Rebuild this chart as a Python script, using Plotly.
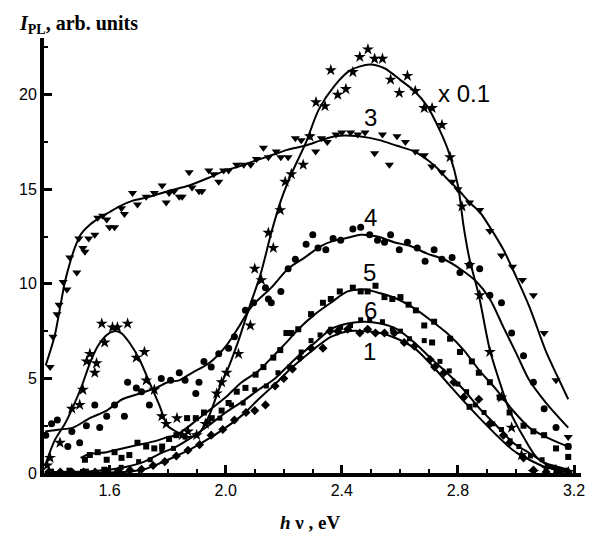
import plotly.graph_objects as go

# ---------------- fitted curves (line knots) ----------------
c2_line_x = [1.378,1.41,1.446,1.474,1.504,1.532,1.559,1.59,1.615,1.64,1.668,1.703,1.737,1.771,1.80,1.84,1.874,1.908,1.942,1.976,2.01,2.044,2.08,2.12,2.157,2.19,2.226,2.277,2.32,2.376,2.43,2.496,2.547,2.60,2.65,2.694,2.738,2.77,2.80,2.82,2.84,2.872,2.91,2.944,2.978,3.026,3.07,3.128,3.18]
c2_line_y = [0.4,1.7,2.6,3.5,4.6,5.8,6.7,7.3,7.5,7.4,6.9,6.0,4.8,3.6,2.5,2.1,1.9,2.1,3.0,4.4,5.6,7.0,8.7,10.5,12.7,14.4,15.8,17.5,19.2,20.5,21.3,21.6,21.4,20.8,20.2,19.4,18.1,16.9,15.2,13.0,11.3,9.4,6.5,4.8,3.3,1.9,0.85,0.26,0.05]

c3_line_x = [1.38,1.41,1.43,1.446,1.465,1.48,1.50,1.53,1.566,1.60,1.634,1.68,1.737,1.80,1.874,1.94,2.0,2.044,2.10,2.157,2.215,2.273,2.33,2.376,2.41,2.46,2.53,2.59,2.65,2.70,2.73,2.76,2.80,2.84,2.875,2.91,2.957,3.0,3.046,3.104,3.14,3.18]
c3_line_y = [5.7,7.2,8.8,10.1,11.2,11.9,12.6,13.1,13.5,13.8,14.1,14.4,14.6,14.9,15.2,15.6,16.0,16.2,16.5,16.8,17.1,17.3,17.6,17.8,17.85,17.8,17.6,17.3,17.0,16.5,16.1,15.6,15.0,14.3,13.8,13.0,11.8,10.4,8.8,6.4,5.2,3.9]

c4_line_x = [1.378,1.43,1.474,1.532,1.59,1.644,1.703,1.76,1.80,1.84,1.884,1.942,2.0,2.044,2.089,2.157,2.215,2.273,2.328,2.376,2.41,2.465,2.523,2.58,2.636,2.694,2.752,2.807,2.865,2.91,2.957,3.002,3.046,3.104,3.18]
c4_line_y = [2.2,2.3,2.4,2.9,3.3,3.9,4.2,4.5,4.8,4.9,5.3,5.8,6.7,7.7,8.8,9.8,10.8,11.4,12.0,12.3,12.4,12.6,12.5,12.2,12.0,11.6,11.3,10.8,10.1,9.2,7.7,6.3,4.9,3.7,2.4]

c5_line_x = [1.50,1.532,1.59,1.644,1.703,1.76,1.80,1.829,1.884,1.942,2.0,2.055,2.113,2.171,2.215,2.25,2.308,2.362,2.42,2.479,2.533,2.591,2.65,2.704,2.762,2.82,2.875,2.933,2.99,3.046,3.104,3.163,3.18]
c5_line_y = [0.8,1.0,1.1,1.3,1.5,1.7,1.9,2.0,2.6,3.3,4.0,4.8,5.4,6.3,7.0,7.6,8.4,9.0,9.6,9.7,9.5,9.2,8.7,8.1,7.4,6.5,5.4,4.4,3.3,2.4,1.9,1.5,1.4]

c6_line_x = [1.38,1.55,1.65,1.72,1.77,1.83,1.884,1.94,2.0,2.06,2.113,2.17,2.23,2.308,2.362,2.42,2.479,2.533,2.591,2.65,2.704,2.762,2.82,2.875,2.933,2.99,3.046,3.104,3.163]
c6_line_y = [0.05,0.1,0.3,0.6,1.0,1.4,1.9,2.5,3.2,3.8,4.4,5.0,5.9,6.9,7.6,7.9,8.0,7.9,7.6,6.9,6.1,5.3,4.4,3.4,2.5,1.6,1.05,0.5,0.25]

c1_line_x = [1.38,1.55,1.65,1.72,1.771,1.83,1.884,1.94,2.0,2.06,2.113,2.17,2.23,2.308,2.362,2.42,2.479,2.533,2.591,2.65,2.704,2.762,2.82,2.875,2.933,2.99,3.046,3.104,3.163]
c1_line_y = [0.02,0.03,0.05,0.2,0.5,0.9,1.3,1.8,2.4,3.1,3.9,4.7,5.6,6.6,7.2,7.5,7.5,7.4,7.1,6.6,5.8,4.8,3.8,2.9,2.0,1.2,0.7,0.3,0.15]

# ---------------- measured points ----------------
c2_pts_x = [1.385,1.395,1.429,1.47,1.497,1.508,1.521,1.532,1.549,1.555,1.573,1.583,1.61,1.627,1.662,1.692,1.72,1.726,1.754,1.78,1.795,1.832,1.85,1.87,1.90,1.93,1.969,1.986,2.003,2.044,2.085,2.10,2.123,2.147,2.164,2.188,2.205,2.226,2.267,2.29,2.311,2.342,2.362,2.386,2.414,2.438,2.462,2.49,2.513,2.54,2.568,2.598,2.626,2.653,2.684,2.711,2.745,2.773,2.814,2.84,2.875,2.91,2.95,2.985,3.019,3.06,3.104,3.138,3.18]
c2_pts_y = [0.4,0.8,1.6,3.4,3.6,4.4,5.9,6.3,5.3,5.8,7.9,6.9,7.7,7.7,7.9,6.1,6.4,4.9,4.4,3.0,2.6,2.9,2.0,2.2,2.0,2.6,4.2,4.8,5.3,6.3,7.8,10.8,10.2,12.7,11.9,13.9,15.4,15.8,16.3,17.8,19.6,19.4,21.3,20.0,20.3,21.2,22.0,22.4,21.9,21.9,20.8,20.1,21.0,20.2,19.3,19.3,18.4,16.7,14.1,11.0,9.4,6.4,4.0,2.4,0.95,0.05,0.26,0.16,0.05]

c3_pts_x = [1.395,1.405,1.419,1.426,1.44,1.453,1.463,1.487,1.494,1.508,1.515,1.528,1.549,1.559,1.576,1.59,1.60,1.617,1.641,1.651,1.679,1.696,1.726,1.754,1.781,1.795,1.805,1.822,1.84,1.85,1.874,1.884,1.908,1.918,1.942,1.959,1.976,1.993,2.01,2.038,2.062,2.086,2.106,2.13,2.147,2.174,2.19,2.215,2.24,2.26,2.29,2.31,2.33,2.35,2.38,2.40,2.43,2.455,2.48,2.513,2.54,2.564,2.59,2.619,2.653,2.684,2.71,2.745,2.78,2.80,2.84,2.875,2.91,2.95,2.988,3.022,3.06,3.097,3.138,3.18]
c3_pts_y = [5.6,7.2,8.4,8.9,10.1,9.7,11.4,10.6,12.4,11.9,11.7,12.4,12.6,13.5,13.6,13.4,13.0,13.0,14.0,13.7,14.8,14.2,14.6,14.8,15.2,14.3,14.8,14.9,14.6,14.6,15.9,15.1,14.9,14.9,16.0,15.8,15.4,16.0,16.0,16.3,16.3,16.3,16.6,17.2,16.7,17.0,16.7,16.7,17.7,17.6,17.8,17.0,17.7,17.5,17.9,18.0,18.0,17.9,18.0,16.9,17.9,16.3,17.8,17.5,17.0,16.8,16.2,15.9,15.4,15.0,14.3,13.9,12.8,11.5,10.9,10.2,9.4,7.4,4.9,1.9]

c4_pts_x = [1.38,1.40,1.42,1.456,1.47,1.497,1.52,1.549,1.566,1.59,1.617,1.651,1.662,1.692,1.71,1.737,1.778,1.81,1.84,1.86,1.897,1.908,1.925,1.95,1.976,2.01,2.03,2.068,2.096,2.137,2.147,2.157,2.19,2.215,2.24,2.277,2.30,2.318,2.345,2.37,2.396,2.438,2.465,2.496,2.523,2.547,2.568,2.598,2.626,2.66,2.687,2.718,2.745,2.78,2.807,2.84,2.875,2.91,2.95,2.985,3.026,3.06,3.097,3.138,3.18]
c4_pts_y = [2.0,2.6,2.8,1.4,2.2,1.6,2.5,3.6,2.4,3.0,3.6,3.0,4.8,4.5,4.3,3.6,5.0,4.9,5.3,4.9,4.2,4.8,5.9,5.6,6.3,6.6,7.2,8.6,9.0,9.8,9.2,9.0,9.6,10.8,11.3,12.1,12.6,11.9,11.8,12.4,12.3,12.9,13.0,12.6,12.3,12.2,12.6,11.8,12.2,11.9,11.2,11.8,11.3,11.4,10.6,11.0,10.8,9.4,9.0,7.4,6.2,4.8,3.4,2.4,1.4]

c5_pts_x = [1.515,1.532,1.559,1.59,1.617,1.641,1.668,1.696,1.726,1.754,1.781,1.805,1.83,1.867,1.897,1.925,1.952,1.986,2.01,2.038,2.068,2.103,2.13,2.164,2.188,2.209,2.226,2.25,2.294,2.335,2.362,2.393,2.438,2.465,2.489,2.516,2.547,2.574,2.602,2.63,2.655,2.684,2.711,2.718,2.773,2.807,2.84,2.848,2.872,2.91,2.944,2.978,3.026,3.06,3.097,3.138,3.18,3.18]
c5_pts_y = [0.7,0.95,1.1,0.7,1.1,0.8,0.95,1.6,1.4,1.3,1.4,1.8,2.0,2.9,2.9,3.2,2.9,3.3,3.7,4.3,4.5,5.2,5.6,6.1,6.5,7.4,7.4,7.6,8.4,9.0,9.2,9.6,9.8,9.6,9.6,9.9,9.3,9.2,9.3,8.9,8.6,7.8,6.9,8.0,7.1,6.4,3.5,5.9,5.3,4.8,4.0,3.2,2.5,2.2,2.0,1.3,1.4,0.85]

c6_pts_x = [1.40,1.46,1.52,1.58,1.64,1.70,1.74,1.78,1.82,1.86,1.90,1.94,1.98,2.02,2.06,2.10,2.14,2.18,2.22,2.26,2.294,2.325,2.362,2.396,2.43,2.465,2.496,2.54,2.574,2.602,2.633,2.684,2.738,2.77,2.80,2.83,2.86,2.89,2.92,2.95,2.98,3.01,3.05,3.09,3.13,3.17]
c6_pts_y = [0.1,0.15,0.1,0.2,0.3,0.6,0.7,1.2,1.3,1.9,2.0,2.7,2.9,3.6,3.7,4.4,4.6,5.3,5.6,6.4,7.0,7.3,7.6,7.7,7.8,8.1,8.1,8.0,7.6,7.5,7.1,7.0,5.9,5.4,4.7,4.3,3.6,3.2,2.6,2.3,1.7,1.4,0.9,0.7,0.3,0.15]

c1_pts_x = [1.39,1.43,1.47,1.51,1.55,1.59,1.63,1.67,1.71,1.75,1.79,1.83,1.87,1.91,1.95,1.99,2.03,2.07,2.10,2.137,2.17,2.20,2.23,2.256,2.294,2.335,2.359,2.386,2.42,2.462,2.489,2.516,2.547,2.581,2.615,2.65,2.704,2.72,2.752,2.786,2.82,2.872,2.91,2.957,2.978,3.026,3.06,3.104,3.149,3.18]
c1_pts_y = [0.05,0.05,0.05,0.05,0.05,0.1,0.1,0.15,0.2,0.4,0.6,0.9,1.2,1.5,2.0,2.3,2.8,3.2,3.3,3.6,4.6,5.0,5.5,6.1,6.6,6.6,7.5,7.5,7.6,7.4,7.6,7.4,7.4,7.4,6.9,6.7,6.0,5.6,5.3,4.8,4.0,3.9,2.6,2.0,1.6,0.8,0.15,0.05,0.05,0.05]

# ---------------- labels ----------------
curve_labels = ["2", "x 0.1", "3", "4", "5", "6", "1"]
label_x = [2.506, 2.82, 2.50, 2.50, 2.496, 2.50, 2.496]
label_y = [23.05, 20.05, 18.8, 13.5, 10.6, 8.6, 6.4]
x_ticks = [1.6, 2.0, 2.4, 2.8, 3.2]
y_ticks = [0, 5, 10, 15, 20]

fig = go.Figure()

series = [
    (c2_line_x, c2_line_y, c2_pts_x, c2_pts_y, "star", 9),
    (c3_line_x, c3_line_y, c3_pts_x, c3_pts_y, "triangle-down", 8),
    (c4_line_x, c4_line_y, c4_pts_x, c4_pts_y, "circle", 7),
    (c5_line_x, c5_line_y, c5_pts_x, c5_pts_y, "square", 6),
    (c6_line_x, c6_line_y, c6_pts_x, c6_pts_y, "square", 5),
    (c1_line_x, c1_line_y, c1_pts_x, c1_pts_y, "diamond", 7),
]
for lx, ly, px, py, sym, sz in series:
    fig.add_trace(go.Scatter(x=lx, y=ly, mode="lines",
                             line=dict(color="black", width=2, shape="spline", smoothing=0.8),
                             cliponaxis=False, showlegend=False, hoverinfo="skip"))
    fig.add_trace(go.Scatter(x=px, y=py, mode="markers",
                             marker=dict(symbol=sym, size=sz, color="black", line=dict(width=0)),
                             cliponaxis=False, showlegend=False))

for t, x, y in zip(curve_labels, label_x, label_y):
    fig.add_annotation(x=x, y=y, text=t, showarrow=False, xref="x", yref="y",
                       font=dict(family="Liberation Sans, Arial", size=24, color="black"))

serif = "Liberation Serif, Times New Roman, serif"
fig.add_annotation(xref="paper", yref="paper", x=-0.05, y=1.03, xanchor="left", yanchor="middle",
                   text="<b><i>I</i></b><sub><b>PL</b></sub><b>, arb. units</b>", showarrow=False,
                   font=dict(family=serif, size=20, color="black"))
fig.add_annotation(xref="paper", yref="paper", x=0.497, y=-0.113, xanchor="center", yanchor="middle",
                   text="<b><i>h</i> ν , eV</b>", showarrow=False,
                   font=dict(family=serif, size=19, color="black"))

axis_common = dict(showline=True, linewidth=4, linecolor="black", ticks="inside", ticklen=8,
                   tickwidth=3, tickcolor="black", showgrid=False, zeroline=False,
                   tickfont=dict(family="Liberation Sans, Arial", size=16, color="black"))
fig.update_xaxes(range=[1.374, 3.224], tickvals=x_ticks, ticktext=[f"{v:.1f}" for v in x_ticks],
                 minor=dict(ticks="inside", ticklen=4, tickwidth=2, tickcolor="black",
                            tickmode="linear", tick0=1.4, dtick=0.1),
                 **axis_common)
fig.update_yaxes(range=[0, 23.0], tickvals=y_ticks, ticktext=[str(v) for v in y_ticks],
                 minor=dict(ticks="inside", ticklen=4, tickwidth=2, tickcolor="black",
                            tickmode="linear", tick0=0, dtick=2.5),
                 **axis_common)
fig.update_layout(width=591, height=536, margin=dict(l=44, r=6, t=38, b=63),
                  plot_bgcolor="white", paper_bgcolor="white")
fig.write_html("out.html", config={"displayModeBar": False},
               post_script="document.body.style.margin='0';document.body.style.overflow='hidden';")
